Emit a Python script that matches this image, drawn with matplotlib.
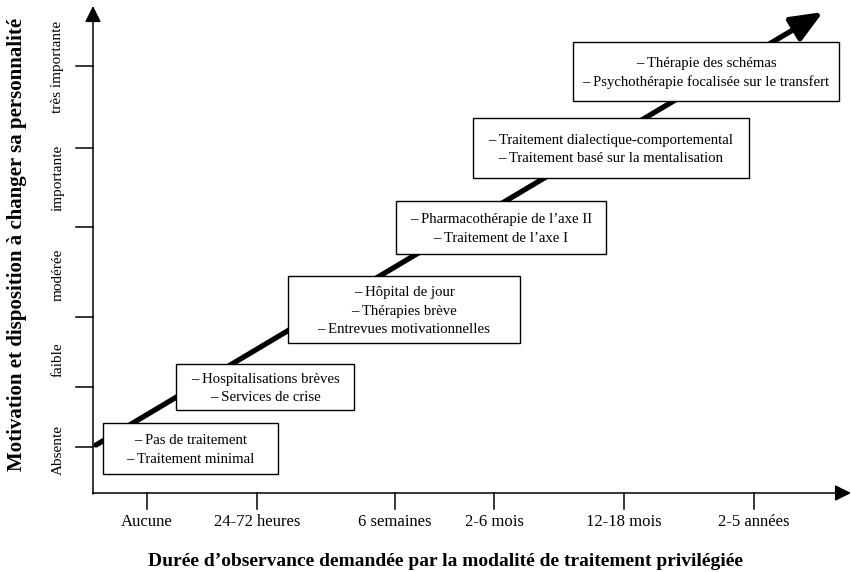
import matplotlib.pyplot as plt
from matplotlib.patches import Rectangle

plt.rcParams['font.family'] = ['Liberation Serif', 'DejaVu Serif']

# x axis: duration of adherence required
durations = ['Aucune', '24-72 heures', '6 semaines', '2-6 mois', '12-18 mois', '2-5 années']
duration_x = [147, 257, 395, 494, 624, 754]

# y axis: motivation levels
levels = ['Absente', 'faible', 'modérée', 'importante', 'très importante']
level_label_y = [450, 360, 275, 178, 67]
level_tick_y = [447, 387, 317, 227, 148, 66]

# treatment boxes
treatments = [
    ['Pas de traitement', 'Traitement minimal'],
    ['Hospitalisations brèves', 'Services de crise'],
    ['Hôpital de jour', 'Thérapies brève', 'Entrevues motivationnelles'],
    ['Pharmacothérapie de l\u2019axe II', 'Traitement de l\u2019axe I'],
    ['Traitement dialectique-comportemental', 'Traitement basé sur la mentalisation'],
    ['Thérapie des schémas', 'Psychothérapie focalisée sur le transfert'],
]
# box extents (left, right, top, bottom)
box_left = [103, 176, 288, 396, 473, 573]
box_right = [278, 354, 520, 606, 749, 839]
box_top = [423, 364, 276, 201, 118, 42]
box_bottom = [474, 410, 343, 254, 178, 101]

xlabel = 'Durée d\u2019observance demandée par la modalité de traitement privilégiée'
ylabel = 'Motivation et disposition à changer sa personnalité'

fig = plt.figure(figsize=(8.51, 5.72), dpi=100)
ax = fig.add_axes([0, 0, 1, 1])
ax.set_xlim(0, 851)
ax.set_ylim(572, 0)
ax.axis('off')

x0, y0 = 93, 493

# axes with arrows
ax.annotate('', xy=(x0, 6), xytext=(x0, y0 + 1),
            arrowprops=dict(arrowstyle='-|>,head_length=0.7,head_width=0.35',
                            lw=1.1, color='black', mutation_scale=14,
                            shrinkA=0, shrinkB=0))
ax.annotate('', xy=(851, y0), xytext=(x0 - 0.5, y0),
            arrowprops=dict(arrowstyle='-|>,head_length=0.7,head_width=0.35',
                            lw=1.1, color='black', mutation_scale=14,
                            shrinkA=0, shrinkB=0))

# ticks
for y in level_tick_y:
    ax.plot([76, x0], [y, y], color='black', lw=1.1)
for x in duration_x:
    ax.plot([x, x], [y0, 509], color='black', lw=1.1)

for lab, x in zip(durations, duration_x):
    ax.text(x, 522, lab, ha='center', va='center', fontsize=12)
for lab, y in zip(levels, level_label_y):
    ax.text(58, y, lab, ha='center', va='center', rotation=90, fontsize=11)

ax.text(446, 561, xlabel, ha='center', va='center', fontsize=14, fontweight='bold')
ax.text(17, 244, ylabel, ha='center', va='center', rotation=90,
        fontsize=15, fontweight='bold')

# big diagonal arrow
ax.annotate('', xy=(823, 12), xytext=(96, 445),
            arrowprops=dict(arrowstyle='-|>,head_length=0.6,head_width=0.25',
                            lw=3.8, color='black', mutation_scale=32,
                            shrinkA=0, shrinkB=0), zorder=2)

# treatment boxes
for lines, l, r, t, b in zip(treatments, box_left, box_right, box_top, box_bottom):
    ax.add_patch(Rectangle((l, t), r - l, b - t, facecolor='white',
                           edgecolor='black', lw=1.0, zorder=3))
    ax.text((l + r) / 2, (t + b) / 2 + 1.5, '\n'.join('\u2013 ' + s for s in lines),
            ha='center', va='center', fontsize=10.6, linespacing=1.55, zorder=4)

fig.savefig('out.png', dpi=100)
